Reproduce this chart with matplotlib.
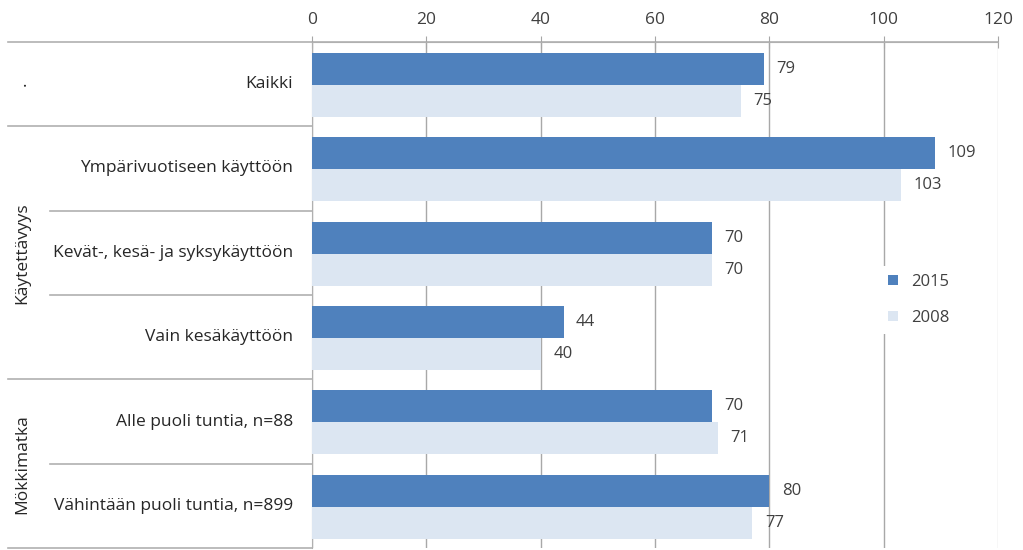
import matplotlib
matplotlib.use('Agg')
import matplotlib.pyplot as plt
import matplotlib.transforms as mtransforms
import numpy as np

# Dados
categorias = ['Kaikki', 'Ympärivuotiseen käyttöön', 'Kevät-, kesä- ja syksykäyttöön',
              'Vain kesäkäyttöön', 'Alle puoli tuntia, n=88', 'Vähintään puoli tuntia, n=899']
valores_2015 = [79, 109, 70, 44, 70, 80]
valores_2008 = [75, 103, 70, 40, 71, 77]
series = ['2015', '2008']
grupos = ['.', 'Käytettävyys', 'Mökkimatka']
grupo_linhas = [(0, 0), (1, 3), (4, 5)]  # primeira e última categoria de cada grupo
eixo_x = [0, 20, 40, 60, 80, 100, 120]

plt.rcParams['font.family'] = ['Open Sans', 'DejaVu Sans']

fig = plt.figure(figsize=(10.23, 5.5), dpi=100)
ax = fig.add_axes([312 / 1023, 2 / 550, 686 / 1023, 506 / 550])

cor_2015 = '#4f81bd'
cor_2008 = '#dce6f2'
y = np.arange(len(categorias))
altura = 0.38
d1, d2 = -0.18, 0.20
ax.barh(y + d1, valores_2015, altura, color=cor_2015, label=series[0], zorder=3)
ax.barh(y + d2, valores_2008, altura, color=cor_2008, label=series[1], zorder=3)

for i in range(len(categorias)):
    ax.text(valores_2015[i] + 2.2, y[i] + d1, str(valores_2015[i]), va='center', ha='left',
            fontsize=12, color='#404040')
    ax.text(valores_2008[i] + 2.2, y[i] + d2, str(valores_2008[i]), va='center', ha='left',
            fontsize=12, color='#404040')

ax.set_xlim(0, 120)
ax.set_ylim(len(categorias) - 0.5, -0.5)
ax.set_xticks(eixo_x)
ax.xaxis.tick_top()
ax.tick_params(axis='x', length=8, direction='inout', colors='#a6a6a6', labelcolor='#404040',
               labelsize=12.5, pad=6)
ax.set_yticks([])
ax.grid(axis='x', color='#a8a8a8', linewidth=1, zorder=0)
ax.get_xgridlines()[-1].set_color('#d9d9d9')

for lado in ['right', 'bottom']:
    ax.spines[lado].set_visible(False)
ax.spines['top'].set_color('#b0b0b0')
ax.spines['left'].set_color('#b0b0b0')

# Rótulos das categorias e linhas separadoras à esquerda
trans = mtransforms.blended_transform_factory(ax.transAxes, ax.transData)
x_lab = (293 - 312) / 686
x_curto = (50 - 312) / 686
x_longo = (8 - 312) / 686
for i, cat in enumerate(categorias):
    ax.text(x_lab, y[i], cat, transform=trans, ha='right', va='center', fontsize=12.5,
            color='#262626')

limites_grupo = set()
for a, b in grupo_linhas:
    limites_grupo.add(a - 0.5)
    limites_grupo.add(b + 0.5)
for k in range(len(categorias) + 1):
    yy = k - 0.5
    x0 = x_longo if yy in limites_grupo else x_curto
    x1 = 1.0 if k == 0 else 0.0
    ax.plot([x0, x1], [yy, yy], transform=trans, color='#b0b0b0', linewidth=1.2,
            clip_on=False, zorder=1)

x_grupo = (22 - 312) / 686
for nome, (a, b) in zip(grupos, grupo_linhas):
    ax.text(x_grupo, (a + b) / 2, nome, transform=trans, rotation=90, ha='center',
            va='center', fontsize=12.5, color='#262626')

leg = ax.legend(loc='center left', bbox_to_anchor=(0.815, 0.49), frameon=True,
                edgecolor='none', facecolor='white', framealpha=1, fontsize=12,
                handlelength=0.6, handleheight=0.6, labelspacing=1.2,
                borderpad=0.5)
leg.set_zorder(5)
for t in leg.get_texts():
    t.set_color('#404040')

fig.savefig('out.png', dpi=100)
